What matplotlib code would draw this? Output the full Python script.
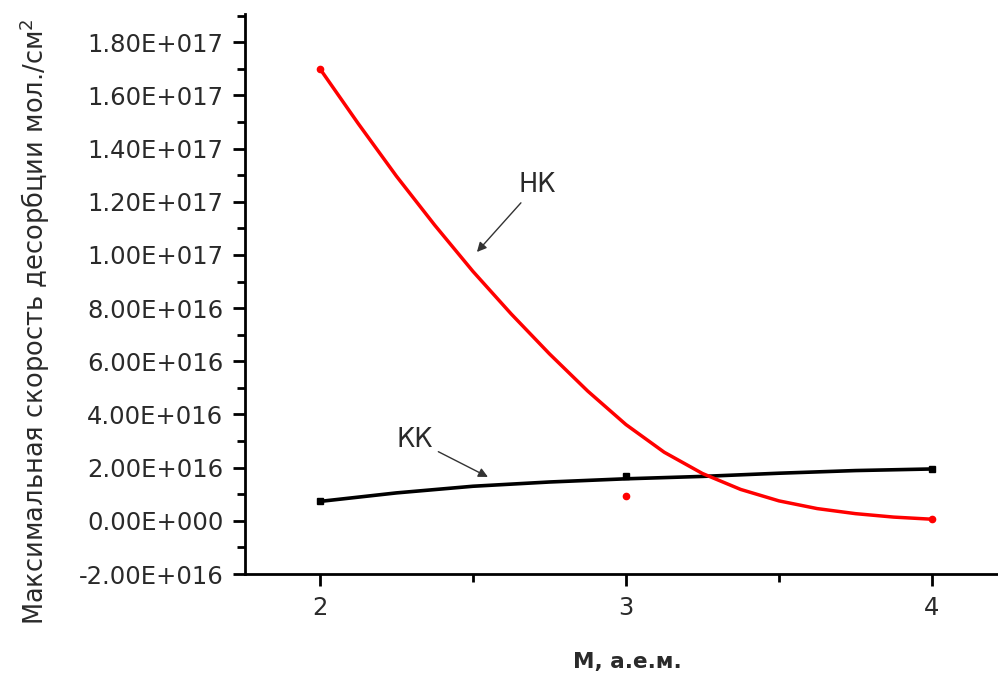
import matplotlib
matplotlib.use("Agg")
import matplotlib.pyplot as plt
from matplotlib.ticker import MultipleLocator, FuncFormatter

plt.rcParams['font.family'] = ['DejaVu Sans']

# measured points
mass = [2, 3, 4]
hk_points = [1.70e17, 0.95e16, 0.06e16]
kk_points = [0.73e16, 1.69e16, 1.95e16]

# fitted curves
hk_fit_x = [2.0, 2.125, 2.25, 2.375, 2.5, 2.625, 2.75, 2.875, 3.0, 3.125,
            3.25, 3.375, 3.5, 3.625, 3.75, 3.875, 4.0]
hk_fit_y = [1.700e17, 1.494e17, 1.296e17, 1.112e17, 0.938e17, 0.778e17,
            0.628e17, 0.488e17, 0.362e17, 0.258e17, 0.178e17, 0.118e17,
            0.075e17, 0.046e17, 0.027e17, 0.014e17, 0.006e17]
kk_fit_x = [2.0, 2.25, 2.5, 2.75, 3.0, 3.25, 3.5, 3.75, 4.0]
kk_fit_y = [0.73e16, 1.05e16, 1.30e16, 1.46e16, 1.58e16, 1.67e16, 1.79e16,
            1.89e16, 1.95e16]

x_ticks = [2, 3, 4]
y_label = "Максимальная скорость десорбции мол./см$^2$"
x_label = "М, а.е.м."

text_color = '#2a2a2a'

fig = plt.figure(figsize=(9.98, 6.74), dpi=100)
ax = fig.add_axes([245/998, 100/674, 753/998, 560/674])

ax.plot(hk_fit_x, hk_fit_y, color='#ff0000', lw=2.5, solid_capstyle='round',
        solid_joinstyle='round', zorder=3)
ax.plot(kk_fit_x, kk_fit_y, color='black', lw=2.6, solid_capstyle='round',
        solid_joinstyle='round', zorder=2)
ax.plot(mass, hk_points, 'o', color='#ff0000', ms=4.5, zorder=4)
ax.plot(mass, kk_points, 's', color='black', ms=4.5, zorder=4)

ax.set_xlim(1.755, 4.216)
ax.set_ylim(-2e16, 1.906e17)
ax.set_xticks(x_ticks)
ax.xaxis.set_minor_locator(MultipleLocator(0.5))
ax.yaxis.set_major_locator(MultipleLocator(2e16))
ax.yaxis.set_minor_locator(MultipleLocator(1e16))


def fmt(v, pos):
    if abs(v) < 1e3:
        return "0.00E+000"
    s = "%.2E" % v
    mant, exp = s.split("E")
    sign = exp[0]
    num = int(exp[1:])
    return "%sE%s%03d" % (mant, sign, num)


ax.yaxis.set_major_formatter(FuncFormatter(fmt))

for s in ['top', 'right']:
    ax.spines[s].set_visible(False)
for s in ['left', 'bottom']:
    ax.spines[s].set_linewidth(2.0)

ax.tick_params(axis='both', which='major', direction='out', length=8.6, width=2,
               labelsize=17.5, labelcolor=text_color)
ax.tick_params(axis='both', which='minor', direction='out', length=5.8, width=2)
ax.tick_params(axis='x', pad=7)
ax.tick_params(axis='y', pad=7)

fig.text(35/998, 1 - 322/674, y_label, rotation=90, ha='center', va='center',
         fontsize=18.5, color=text_color)
fig.text(627/998, 1 - 662/674, x_label, ha='center', va='center',
         fontsize=15.5, fontweight='bold', color=text_color)

arrow = dict(arrowstyle='-|>', color='#333333', lw=1.0, mutation_scale=14)
ax.annotate("НК", xy=(2.513, 1.011e17), xytext=(2.709, 1.263e17),
            ha='center', va='center', fontsize=18.5, color=text_color,
            arrowprops=dict(arrow, shrinkA=2, shrinkB=0))
ax.annotate("КК", xy=(2.549, 1.65e16), xytext=(2.31, 3.05e16),
            ha='center', va='center', fontsize=18.5, color=text_color,
            arrowprops=dict(arrow, shrinkA=2, shrinkB=0))

fig.savefig("out.png", dpi=100)
